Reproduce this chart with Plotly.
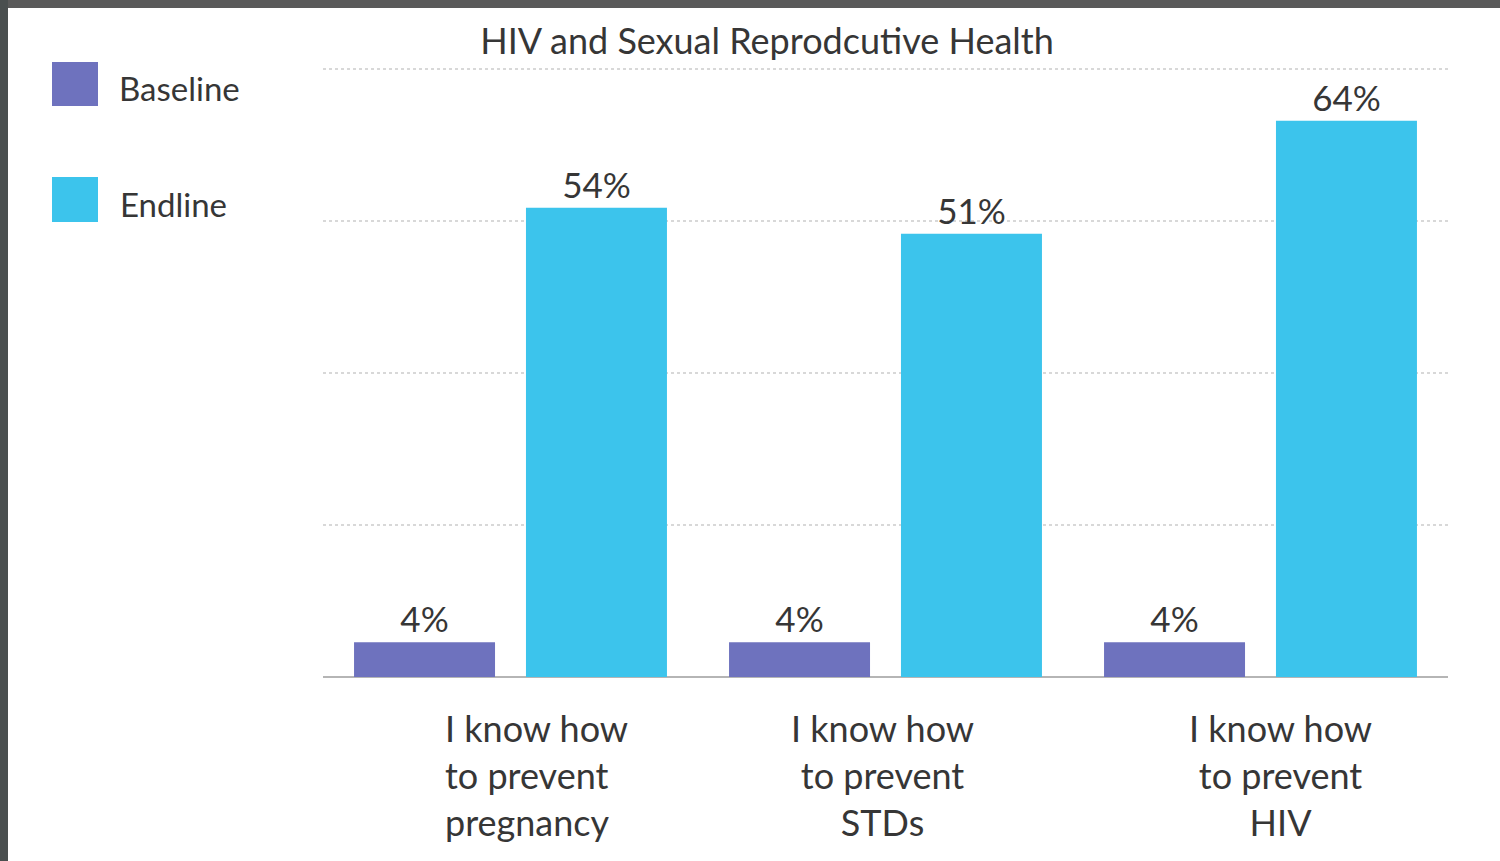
import plotly.graph_objects as go

categories = ["I know how<br>to prevent<br>pregnancy",
              "I know how<br>to prevent<br>STDs",
              "I know how<br>to prevent<br>HIV"]
baseline = [4, 4, 4]
endline = [54, 51, 64]
series_names = ["Baseline", "Endline"]
title_text = "HIV and Sexual Reprodcutive Health"

colors = ["#6E72BE", "#3CC4EC"]
FONT = "Lato"
TXT = "#363636"

W, H = 1500, 861
ML, MR, MT, MB = 323, 52, 67, 184
PW, PH = W - ML - MR, H - MT - MB

def px_x(p):
    return (p - ML) / PW

def px_y(p):
    return (H - MB - p) / PH

fig = go.Figure()
for name, vals, col in zip(series_names, [baseline, endline], colors):
    fig.add_trace(go.Bar(
        x=categories, y=vals, name=name, marker_color=col,
        marker_line_width=0,
        texttemplate="%{y}%", textposition="outside",
        textfont=dict(family=FONT, size=35, color=TXT),
        cliponaxis=False, showlegend=False,
    ))

# category labels
xshifts = [26, -3, 20]
aligns = ["left", "center", "center"]
for cat, xs, al in zip(categories, xshifts, aligns):
    fig.add_annotation(x=cat, xref="x", y=0, yref="y", yanchor="top",
                       yshift=-27, xshift=xs, text=cat, align=al,
                       showarrow=False,
                       font=dict(family=FONT, size=36, color=TXT))

# legend (drawn manually for large swatches)
leg_rows = [(62, 106), (177, 222)]
leg_text_x = [117, 118]
for (y0, y1), name, col, tx in zip(leg_rows, series_names, colors, leg_text_x):
    fig.add_shape(type="rect", xref="paper", yref="paper",
                  x0=px_x(52), x1=px_x(98), y0=px_y(y1), y1=px_y(y0),
                  fillcolor=col, line_width=0)
    fig.add_annotation(xref="paper", yref="paper", x=px_x(tx),
                       y=px_y((y0 + y1) / 2 + 4), xanchor="left", yanchor="middle",
                       text=name, showarrow=False,
                       font=dict(family=FONT, size=33, color=TXT))

# photo edges
fig.add_shape(type="rect", xref="paper", yref="paper",
              x0=px_x(-5), x1=px_x(W + 5), y0=px_y(8), y1=px_y(-5),
              fillcolor="#5a5a5a", line_width=0, layer="above")
fig.add_shape(type="rect", xref="paper", yref="paper",
              x0=px_x(-5), x1=px_x(8), y0=px_y(H + 5), y1=px_y(-5),
              fillcolor="#4a4f4f", line_width=0, layer="above")

fig.update_layout(
    width=W, height=H,
    margin=dict(l=ML, r=MR, t=MT, b=MB),
    paper_bgcolor="white", plot_bgcolor="white",
    barmode="group", bargap=0.083, bargroupgap=0.18,
    title=dict(text=title_text, x=px_x(767), xref="paper", xanchor="center",
               y=1 - 41 / H, yref="container", yanchor="middle",
               font=dict(family=FONT, size=36, color=TXT)),
    xaxis=dict(showticklabels=False, showgrid=False, zeroline=False,
               showline=False, ticks=""),
    yaxis=dict(range=[0, 70.2], tickvals=[17.5, 35, 52.5, 70],
               showticklabels=False,
               showgrid=True, gridcolor="#d8d8d8", gridwidth=2,
               griddash="dot", zeroline=True, zerolinecolor="#b5b5b5",
               zerolinewidth=2, ticks=""),
    showlegend=False,
)

fig.write_html("out.html", config={"displayModeBar": False},
               post_script="document.body.style.margin='0';document.body.style.overflow='hidden';")
